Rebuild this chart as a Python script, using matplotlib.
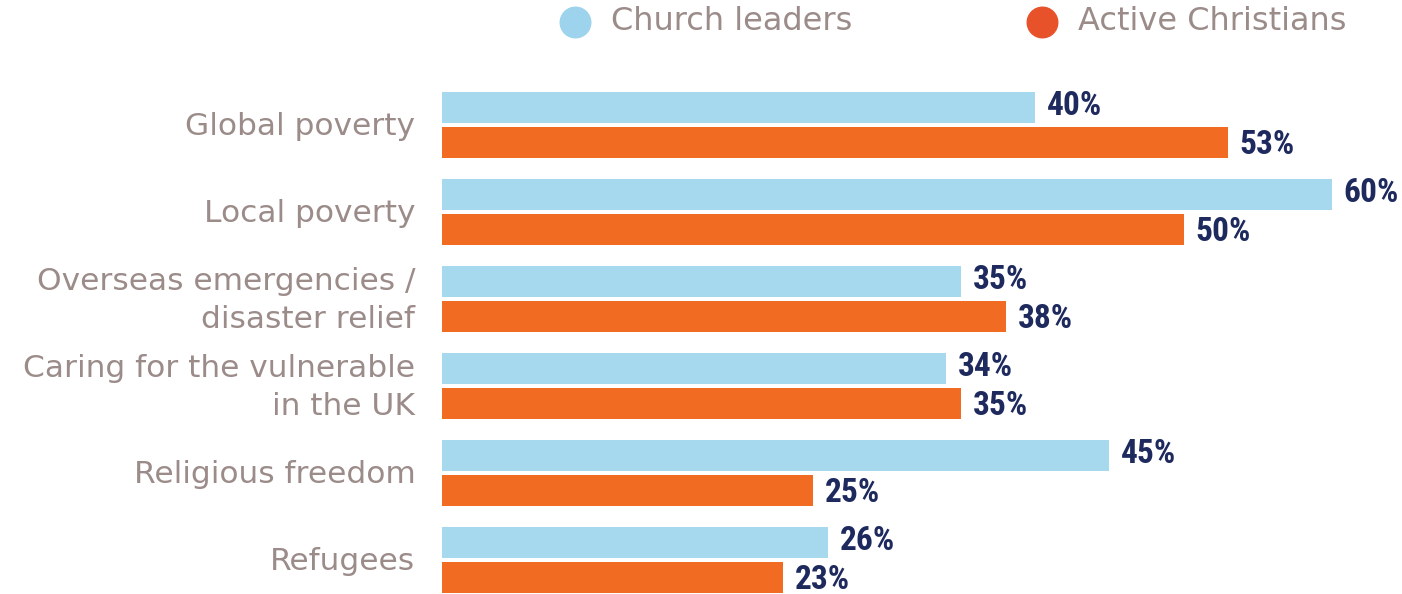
import matplotlib.pyplot as plt
from matplotlib.lines import Line2D
from matplotlib import font_manager
import numpy as np

# data
categories = ["Global poverty", "Local poverty", "Overseas emergencies /\ndisaster relief",
              "Caring for the vulnerable\nin the UK", "Religious freedom", "Refugees"]
church_leaders = [40, 60, 35, 34, 45, 26]
active_christians = [53, 50, 38, 35, 25, 23]

BLUE = "#a6d8ee"
ORANGE = "#f26b22"
GREY = "#9b8c8a"
NAVY = "#1e2a5e"

# narrowest font that is around for the percentage labels
names = {f.name for f in font_manager.fontManager.ttflist}
narrow = "DejaVu Sans"
for cand in ["Roboto Condensed", "Open Sans Condensed", "Liberation Sans Narrow"]:
    if cand in names:
        narrow = cand
        break

W, H = 1402, 594
fig = plt.figure(figsize=(W / 100, H / 100), dpi=100)

# axes placed in pixel terms
px_per_pct = 14.83
ax_left, ax_right = 442, 1402
ax_top, ax_bot = 60, 594
ax = fig.add_axes([ax_left / W, 1 - ax_bot / H, (ax_right - ax_left) / W, (ax_bot - ax_top) / H])
ax.set_xlim(0, (ax_right - ax_left) / px_per_pct)
pitch = 87.0
c0 = 125.0
ax.set_ylim((ax_bot - c0) / pitch, (ax_top - c0) / pitch)
ax.axis("off")

y = np.arange(len(categories))
off = 0.2
bh = 31 / pitch
ax.barh(y - off, church_leaders, height=bh, color=BLUE)
ax.barh(y + off, active_christians, height=bh, color=ORANGE)

vfont = dict(family=[narrow, "DejaVu Sans"], fontweight="bold", fontstretch="condensed",
             fontsize=24, color=NAVY, va="center")
for i in range(len(categories)):
    ax.text(church_leaders[i] + 0.8, y[i] - off - 0.02, f"{church_leaders[i]}%", **vfont)
    ax.text(active_christians[i] + 0.8, y[i] + off + 0.03, f"{active_christians[i]}%", **vfont)
    ax.text(-1.8, y[i] + 0.02, categories[i], ha="right", va="center", fontsize=22.5,
            color=GREY, linespacing=1.4)

# legend
fig.add_artist(Line2D([575 / W], [1 - 22 / H], marker="o", markersize=22,
                      color="#9dd3ec", linestyle="none", transform=fig.transFigure))
fig.add_artist(Line2D([1042 / W], [1 - 22 / H], marker="o", markersize=22,
                      color="#e8522a", linestyle="none", transform=fig.transFigure))
fig.text(611 / W, 1 - 22 / H, "Church leaders", fontsize=23, color=GREY, va="center")
fig.text(1078 / W, 1 - 22 / H, "Active Christians", fontsize=23, color=GREY, va="center")

fig.savefig("out.png", dpi=100)
